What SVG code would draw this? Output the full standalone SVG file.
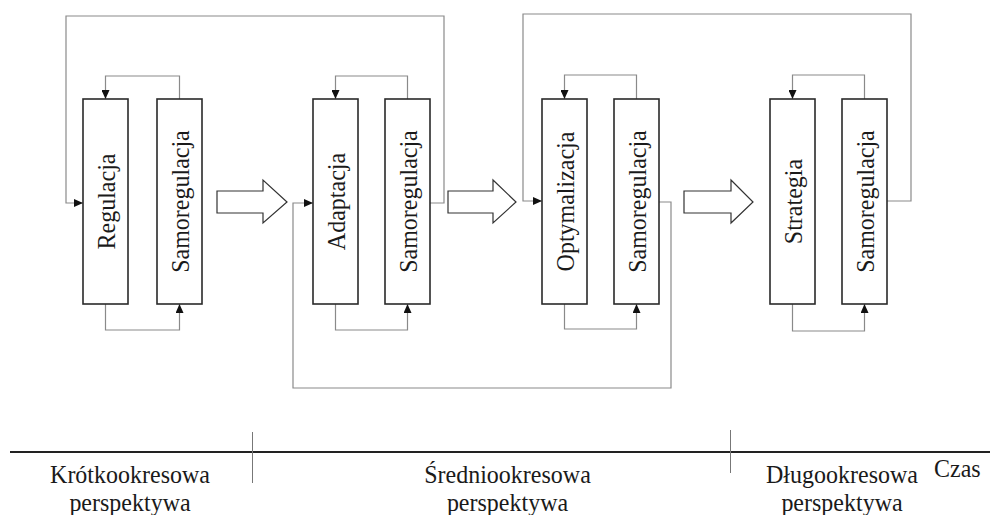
<svg xmlns="http://www.w3.org/2000/svg" width="990" height="515" viewBox="0 0 990 515">
<style>
.box{fill:#fff;stroke:#2a2a2a;stroke-width:1.6}
.lbl{font-family:"Liberation Serif","Times New Roman",serif;font-size:24px;fill:#1a1a1a;text-anchor:middle}
.con{fill:none;stroke:#8a8a8a;stroke-width:1.2}
.big{fill:#fff;stroke:#333;stroke-width:1.2}
.axis{stroke:#222;stroke-width:2}
.tick{stroke:#777;stroke-width:1}
</style>
<defs>
<marker id="ah" markerUnits="userSpaceOnUse" markerWidth="9" markerHeight="8" refX="9" refY="4" orient="auto">
<path d="M0,0 L9,4 L0,8 Z" fill="#111"/>
</marker>
</defs>
<rect width="990" height="515" fill="#fff"/>
<g id="connectors">
<path class="con" d="M179.5,99 V76 H105.5 V99" marker-end="url(#ah)"/>
<path class="con" d="M105.5,304 V330 H179.5 V304" marker-end="url(#ah)"/>
<path class="con" d="M407.5,99 V76 H335.5 V99" marker-end="url(#ah)"/>
<path class="con" d="M335.5,304 V330 H407.5 V304" marker-end="url(#ah)"/>
<path class="con" d="M636.5,99 V75 H564.5 V99" marker-end="url(#ah)"/>
<path class="con" d="M564.5,304 V329 H636.5 V304" marker-end="url(#ah)"/>
<path class="con" d="M864.5,99 V75 H792.5 V99" marker-end="url(#ah)"/>
<path class="con" d="M792.5,304 V331 H864.5 V304" marker-end="url(#ah)"/>
<path class="con" d="M430,203 H444 V16 H66 V203 H83" marker-end="url(#ah)"/>
<path class="con" d="M887,201 H911 V14 H523 V201 H542" marker-end="url(#ah)"/>
<path class="con" d="M659,202 H671 V388 H293 V203 H313" marker-end="url(#ah)"/>
<polygon class="big" points="217,191 263,191 263,180 287,202 263,223 263,213 217,213"/>
<polygon class="big" points="448,191 493,191 493,180 516,202 493,223 493,213 448,213"/>
<polygon class="big" points="684,191 731,191 731,180 753,202 731,223 731,213 684,213"/>
</g>
<g id="n1"><rect class="box" x="83" y="99" width="45" height="205"/><text class="lbl" transform="translate(115,201.5) rotate(-90) scale(1,1.08)">Regulacja</text></g>
<g id="n2"><rect class="box" x="157" y="99" width="45" height="205"/><text class="lbl" transform="translate(188.5,201.5) rotate(-90) scale(1,1.08)">Samoregulacja</text></g>
<g id="n3"><rect class="box" x="313" y="99" width="45" height="205"/><text class="lbl" transform="translate(344.5,201.5) rotate(-90) scale(1,1.08)">Adaptacja</text></g>
<g id="n4"><rect class="box" x="385" y="99" width="45" height="205"/><text class="lbl" transform="translate(416.5,201.5) rotate(-90) scale(1,1.08)">Samoregulacja</text></g>
<g id="n5"><rect class="box" x="542" y="99" width="45" height="205"/><text class="lbl" transform="translate(573.5,201.5) rotate(-90) scale(1,1.08)">Optymalizacja</text></g>
<g id="n6"><rect class="box" x="614" y="99" width="45" height="205"/><text class="lbl" transform="translate(645.5,201.5) rotate(-90) scale(1,1.08)">Samoregulacja</text></g>
<g id="n7"><rect class="box" x="770" y="99" width="45" height="205"/><text class="lbl" transform="translate(801.5,201.5) rotate(-90) scale(1,1.08)">Strategia</text></g>
<g id="n8"><rect class="box" x="842" y="99" width="45" height="205"/><text class="lbl" transform="translate(873.5,201.5) rotate(-90) scale(1,1.08)">Samoregulacja</text></g>
<g id="timeline">
<line class="axis" x1="10" y1="452" x2="990" y2="452"/>
<line class="tick" x1="252.5" y1="432" x2="252.5" y2="483"/>
<line class="tick" x1="730.5" y1="430" x2="730.5" y2="473"/>
<text class="lbl" transform="translate(130,483) scale(1,1.08)">Krótkookresowa</text>
<text class="lbl" transform="translate(130,510.5) scale(1,1.08)">perspektywa</text>
<text class="lbl" transform="translate(507.5,483) scale(1,1.08)">Średniookresowa</text>
<text class="lbl" transform="translate(507.5,510.5) scale(1,1.08)">perspektywa</text>
<text class="lbl" transform="translate(842,483) scale(1,1.08)">Długookresowa</text>
<text class="lbl" transform="translate(842,510.5) scale(1,1.08)">perspektywa</text>
<text class="lbl" transform="translate(934,477) scale(1,1.08)" style="text-anchor:start">Czas</text>
</g>
</svg>
